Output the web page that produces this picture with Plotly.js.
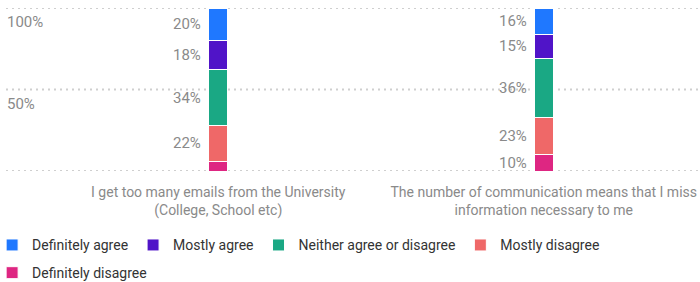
<!DOCTYPE html>
<html>
<head>
<meta charset="utf-8">
<script src="https://cdn.plot.ly/plotly-3.0.1.min.js"></script>
<style>html,body{margin:0;padding:0;background:#fff;}#chart{width:700px;height:282px;}</style>
</head>
<body>
<div id="chart"></div>
<script>
const categories = [
  "I get too many emails from the University (College, School etc)",
  "The number of communication means that I miss information necessary to me"
];
const tickLabels = [
  "I get too many emails from the University<br>(College, School etc)",
  "The number of communication means that I miss<br>information necessary to me"
];
const seriesNames = ["Definitely agree", "Mostly agree", "Neither agree or disagree", "Mostly disagree", "Definitely disagree"];
const definitelyAgree = [20, 16];
const mostlyAgree = [18, 15];
const neither = [34, 36];
const mostlyDisagree = [22, 23];
const definitelyDisagree = [6, 10];
const seriesValues = [definitelyAgree, mostlyAgree, neither, mostlyDisagree, definitelyDisagree];
const colors = ["#1f78ff", "#5014c8", "#1aa884", "#ef6868", "#de2682"];
const gridVals = [0, 50, 100];
const yTickVals = [50, 100];
const yTickText = ["50%", "100%"];

const font = "Roboto, 'Open Sans', sans-serif";
const traces = [];
for (let i = seriesNames.length - 1; i >= 0; i--) {
  traces.push({
    type: "bar",
    name: seriesNames[i],
    x: [0, 1],
    y: seriesValues[i],
    width: 0.058,
    marker: {color: colors[i], line: {color: "#fff", width: 1}},
    legend: i === 4 ? "legend2" : "legend",
    hoverinfo: "none"
  });
}

const annotations = [];
for (let c = 0; c < categories.length; c++) {
  let base = 0;
  for (let i = seriesNames.length - 1; i >= 0; i--) {
    const v = seriesValues[i][c];
    if (v >= 8) {
      annotations.push({
        x: c, y: base + v / 2, xref: "x", yref: "y",
        text: v + "%", showarrow: false, xanchor: "right", yanchor: "middle",
        xshift: -15, yshift: 0,
        font: {family: font, size: 15, color: "#8a8a8a"}
      });
    }
    base += v;
  }
}
yTickVals.forEach((v, k) => {
  annotations.push({
    x: 0, xref: "paper", y: v, yref: "y",
    text: yTickText[k], showarrow: false, xanchor: "left", yanchor: "middle",
    xshift: -1, yshift: -14,
    font: {family: font, size: 15, color: "#8a8a8a"}
  });
});

const shapes = gridVals.map(v => ({
  type: "line", xref: "paper", yref: "y", x0: 0, x1: 1, y0: v, y1: v,
  line: {color: "#cfcfcf", width: 2, dash: "2px,4px"}, layer: "below"
}));

const layout = {
  width: 700, height: 282,
  margin: {l: 6, r: 0, t: 8, b: 111, autoexpand: false},
  paper_bgcolor: "#fff", plot_bgcolor: "#fff",
  barmode: "stack",
  showlegend: true,
  font: {family: font, size: 14, color: "#333"},
  xaxis: {
    range: [-0.652, 1.48],
    tickvals: [0, 1],
    ticktext: tickLabels,
    ticklabelstandoff: 11,
    automargin: false,
    showgrid: false, zeroline: false, showline: false, ticks: "",
    tickfont: {family: font, size: 14, color: "#8a8a8a"},
    fixedrange: true
  },
  yaxis: {
    range: [0, 100],
    showticklabels: false, automargin: false,
    showgrid: false, zeroline: false, showline: false, ticks: "",
    fixedrange: true
  },
  legend: {
    orientation: "h", x: -0.02, xanchor: "left", y: -0.358, yanchor: "top",
    traceorder: "reversed",
    font: {family: font, size: 14, color: "#333"},
    itemclick: false, itemdoubleclick: false
  },
  legend2: {
    orientation: "h", x: -0.02, xanchor: "left", y: -0.528, yanchor: "top",
    font: {family: font, size: 14, color: "#333"},
    itemclick: false, itemdoubleclick: false
  },
  shapes: shapes,
  annotations: annotations
};

Plotly.newPlot("chart", traces, layout, {displayModeBar: false, staticPlot: true});
</script>
</body>
</html>
